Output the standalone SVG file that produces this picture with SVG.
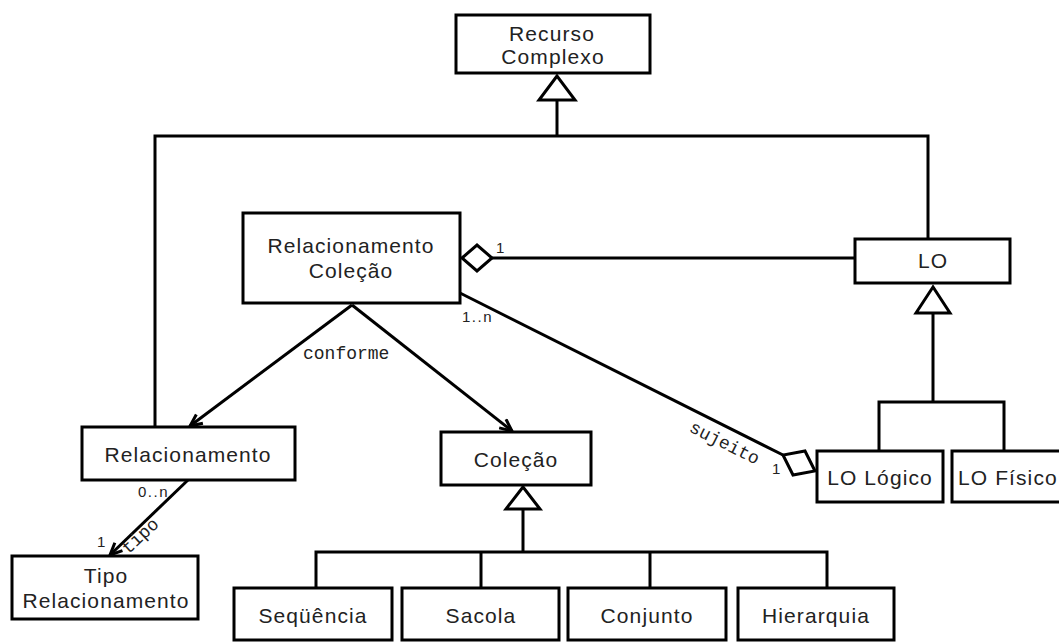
<svg xmlns="http://www.w3.org/2000/svg" width="1059" height="642" viewBox="0 0 1059 642">
  <style>
    .box { fill: #fff; stroke: #000; stroke-width: 3; }
    .lbl { font-family: "Liberation Sans", Arial, sans-serif; font-size: 21px; letter-spacing: 1.1px; fill: #222; text-anchor: middle; }
    .lbl.start { text-anchor: start; }
    .line { fill: none; stroke: #000; stroke-width: 3; }
    .tri { fill: #fff; stroke: #000; stroke-width: 3; stroke-linejoin: miter; }
    .mult { font-family: "Liberation Sans", Arial, sans-serif; font-size: 15px; letter-spacing: 1.5px; fill: #222; }
    .role { font-family: "Liberation Mono", "DejaVu Sans Mono", monospace; font-size: 18px; fill: #222; }
    .role.mid { text-anchor: middle; }
  </style>
  <defs>
    <marker id="arrow" viewBox="0 0 14 14" refX="13" refY="7" markerWidth="14" markerHeight="14" markerUnits="userSpaceOnUse" orient="auto">
      <path d="M1,1.5 L13,7 L1,12.5" fill="none" stroke="#000" stroke-width="3"/>
    </marker>
  </defs>
  <rect width="1059" height="642" fill="#fff"/>

  <!-- connectors -->
  <g id="connectors">
    <!-- generalization to Recurso Complexo -->
    <polyline class="line" points="155,427 155,136 928,136 928,239"/>
    <line class="line" x1="557" y1="136" x2="557" y2="100"/>
    <polygon class="tri" points="557,76 539,100 575,100"/>

    <!-- generalization to LO -->
    <polygon class="tri" points="933,287 916,313 950,313"/>
    <line class="line" x1="933" y1="313" x2="933" y2="402"/>
    <polyline class="line" points="879,451 879,402 1004,402 1004,451"/>

    <!-- generalization to Coleção -->
    <polygon class="tri" points="523,487 506,509 540,509"/>
    <line class="line" x1="523" y1="509" x2="523" y2="552"/>
    <polyline class="line" points="316,588 316,552 827,552 827,588"/>
    <line class="line" x1="481" y1="552" x2="481" y2="588"/>
    <line class="line" x1="650" y1="552" x2="650" y2="588"/>

    <!-- aggregation LO - Relacionamento Coleção -->
    <polygon class="tri" points="462,258 477,245 492,258 477,271"/>
    <line class="line" x1="492" y1="258" x2="855" y2="258"/>
    <text class="mult" x="496" y="253">1</text>

    <!-- sujeito aggregation -->
    <line class="line" x1="460" y1="293" x2="783" y2="455"/>
    <polygon class="tri" points="783,455 793,475 815,471 805,451"/>
    <text class="mult" x="462" y="322">1..n</text>
    <text class="mult" x="772" y="474">1</text>
    <text class="role mid" x="722" y="448" transform="rotate(26.6 722 448)">sujeito</text>

    <!-- conforme -->
    <line class="line" x1="352" y1="305" x2="190" y2="426" marker-end="url(#arrow)"/>
    <line class="line" x1="352" y1="305" x2="512" y2="431" marker-end="url(#arrow)"/>
    <text class="role" x="303" y="359">conforme</text>

    <!-- tipo -->
    <line class="line" x1="188" y1="480" x2="110" y2="555" marker-end="url(#arrow)"/>
    <text class="mult" x="138" y="497">0..n</text>
    <text class="mult" x="97" y="547">1</text>
    <text class="role mid" x="144" y="540" transform="rotate(-43 144 540)">tipo</text>
  </g>

  <g id="recurso-complexo">
    <rect class="box" x="456" y="15" width="194" height="58"/>
    <text class="lbl" x="552" y="41">Recurso</text>
    <text class="lbl" x="553" y="64">Complexo</text>
  </g>

  <g id="relacionamento-colecao">
    <rect class="box" x="243" y="213" width="217" height="90"/>
    <text class="lbl" x="351" y="253">Relacionamento</text>
    <text class="lbl" x="351" y="278">Coleção</text>
  </g>

  <g id="lo">
    <rect class="box" x="855" y="239" width="155" height="44"/>
    <text class="lbl" x="933" y="268">LO</text>
  </g>

  <g id="relacionamento">
    <rect class="box" x="82" y="427" width="213" height="53"/>
    <text class="lbl" x="188" y="462">Relacionamento</text>
  </g>

  <g id="tipo-relacionamento">
    <rect class="box" x="12" y="556" width="186" height="63"/>
    <text class="lbl" x="106" y="583">Tipo</text>
    <text class="lbl" x="106" y="608">Relacionamento</text>
  </g>

  <g id="colecao">
    <rect class="box" x="441" y="432" width="150" height="53"/>
    <text class="lbl" x="516" y="467">Coleção</text>
  </g>

  <g id="sequencia">
    <rect class="box" x="234" y="588" width="158" height="52"/>
    <text class="lbl" x="313" y="623">Seqüência</text>
  </g>

  <g id="sacola">
    <rect class="box" x="402" y="588" width="157" height="52"/>
    <text class="lbl" x="481" y="623">Sacola</text>
  </g>

  <g id="conjunto">
    <rect class="box" x="568" y="588" width="158" height="52"/>
    <text class="lbl" x="647" y="623">Conjunto</text>
  </g>

  <g id="hierarquia">
    <rect class="box" x="738" y="588" width="156" height="52"/>
    <text class="lbl" x="816" y="623">Hierarquia</text>
  </g>

  <g id="lo-logico">
    <rect class="box" x="817" y="451" width="126" height="51"/>
    <text class="lbl" x="880" y="485">LO Lógico</text>
  </g>

  <g id="lo-fisico">
    <rect class="box" x="952" y="451" width="115" height="51"/>
    <text class="lbl start" x="958" y="485">LO Físico</text>
  </g>
</svg>
